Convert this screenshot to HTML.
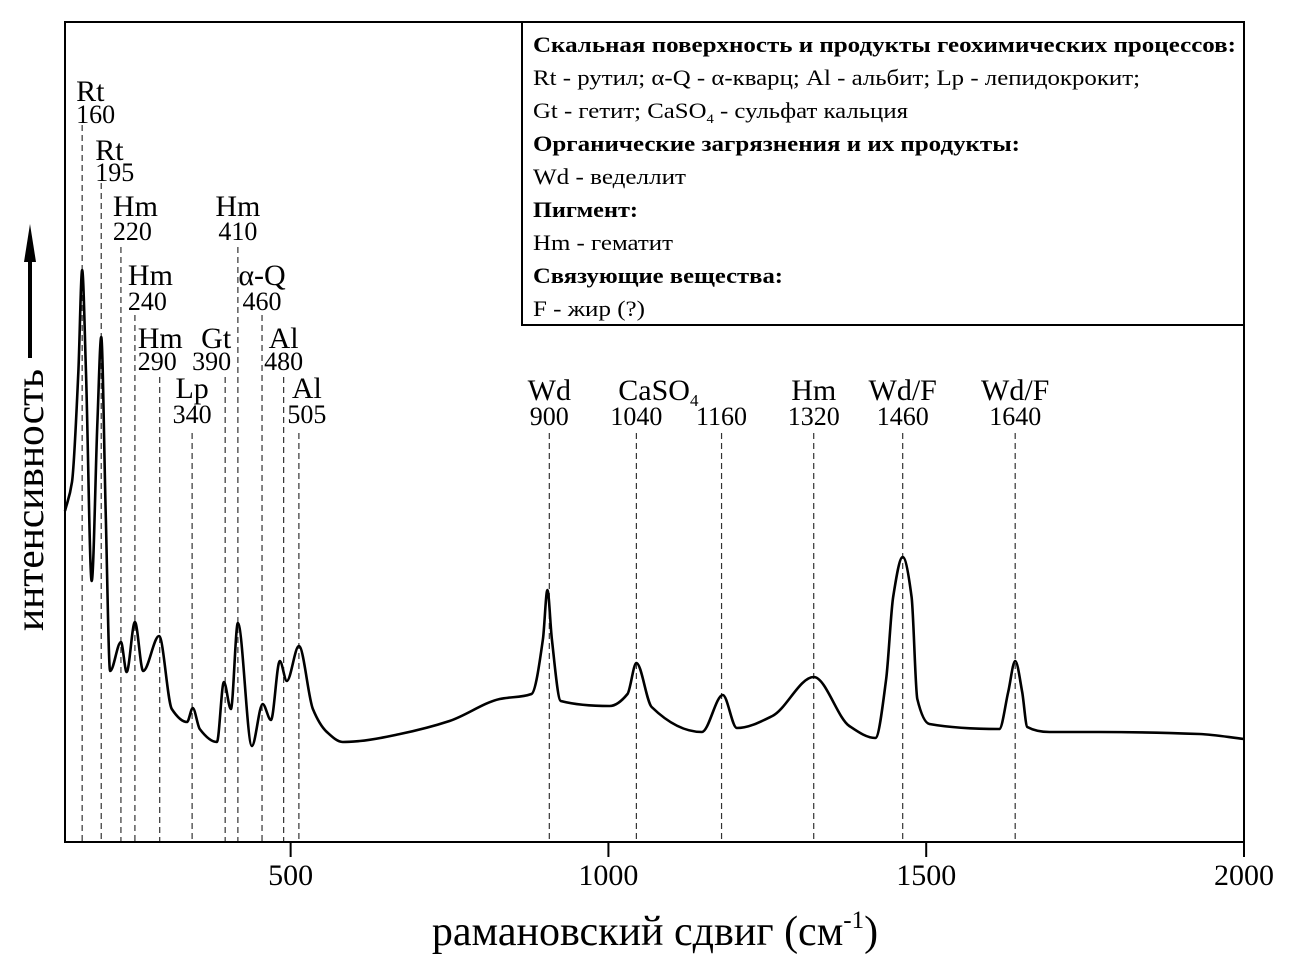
<!DOCTYPE html>
<html><head><meta charset="utf-8"><style>
html,body{margin:0;padding:0;background:#fff;}
svg{display:block;font-family:"Liberation Serif","DejaVu Serif",serif;}
</style></head><body>
<svg id="chart" width="1289" height="972" viewBox="0 0 1289 972">
<g id="guides"></g>
<path id="spectrum" fill="none" stroke="#000" stroke-width="2.6" stroke-linejoin="round"/>
<rect x="65" y="22" width="1179" height="820" fill="none" stroke="#000" stroke-width="2"/>
<g id="xticks"></g>
<text x="655" y="945" font-size="42" text-anchor="middle">рамановский сдвиг (см<tspan font-size="25" dy="-17">-1</tspan><tspan dy="17">)</tspan></text>
<g>
<text transform="translate(43,500) rotate(-90)" font-size="40" text-anchor="middle" textLength="262" lengthAdjust="spacingAndGlyphs">интенсивность</text>
<line x1="30" y1="358" x2="30" y2="255" stroke="#000" stroke-width="4"/>
<polygon points="30,224 24,262 36,262" fill="#000"/>
</g>
<g>
<rect x="522" y="22" width="722" height="303" fill="#fff" stroke="#000" stroke-width="2"/>
<g font-size="22">
<text x="533" y="52" font-weight="bold" textLength="703" lengthAdjust="spacingAndGlyphs">Скальная поверхность и продукты геохимических процессов:</text>
<text x="533" y="85" textLength="607" lengthAdjust="spacingAndGlyphs">Rt - рутил; α-Q - α-кварц; Al - альбит; Lp - лепидокрокит;</text>
<text x="533" y="118" font-size="22" textLength="375" lengthAdjust="spacingAndGlyphs">Gt - гетит; CaSO<tspan font-size="13" dy="5">4</tspan><tspan dy="-5"> - сульфат кальция</tspan></text>
<text x="533" y="151" font-weight="bold" textLength="487" lengthAdjust="spacingAndGlyphs">Органические загрязнения и их продукты:</text>
<text x="533" y="184" textLength="153" lengthAdjust="spacingAndGlyphs">Wd - веделлит</text>
<text x="533" y="217" font-weight="bold" textLength="105" lengthAdjust="spacingAndGlyphs">Пигмент:</text>
<text x="533" y="250" textLength="140" lengthAdjust="spacingAndGlyphs">Hm - гематит</text>
<text x="533" y="283" font-weight="bold" textLength="250" lengthAdjust="spacingAndGlyphs">Связующие вещества:</text>
<text x="533" y="316" textLength="112" lengthAdjust="spacingAndGlyphs">F - жир (?)</text>
</g>
</g>
<g id="labels"></g>
</svg>
<script>
// Spectrum samples (Raman shift cm-1, intensity in arbitrary units)
const shifts = [145,156,166,172,178,187,196,202,209,216,233,242,255,268,293,313,337,346,357,384,395,406,417,439,456,469,483,494,513,535,557,582,609,672,750,829,879,897,904,911,925,1002,1030,1044,1068,1147,1180,1202,1258,1323,1379,1420,1437,1448,1463,1477,1486,1505,1615,1629,1640,1651,1659,1694,1772,1930,2000];
const intensity = [331,360,470,572,470,261,420,505,330,171,200,170,220,171,206,133,120,134,113,100,160,133,219,96,138,122,181,161,196,133,110,100,101,108,121,143,148,203,252,203,141,136,148,179,135,110,147,114,126,165,116,104,163,245,285,245,143,118,113,150,181,150,115,110,110,108,103];
// Peak guide lines
const peakShifts = [172,202,233,255,294,345,397,417,455,489,513,907,1044,1178,1323,1463,1640];
const peakNames = ["Rt","Rt","Hm","Hm","Hm","Lp","Gt","Hm","α-Q","Al","Al","Wd","CaSO4","","Hm","Wd/F","Wd/F"];
const peakValues = ["160","195","220","240","290","340","390","410","460","480","505","900","1040","1160","1320","1460","1640"];
const xTicks = [500,1000,1500,2000];

const NS="http://www.w3.org/2000/svg";
const X0=65,X1=1244,Y0=842,XMIN=145,XMAX=2000;
const xs=v=>X0+(v-XMIN)/(XMAX-XMIN)*(X1-X0);
const ys=v=>Y0-v;

function monotone(px,py){
  const n=px.length,d=[],m=[];
  for(let i=0;i<n-1;i++)d.push((py[i+1]-py[i])/(px[i+1]-px[i]));
  m[0]=d[0];m[n-1]=d[n-2];
  for(let i=1;i<n-1;i++){m[i]=(d[i-1]*d[i]<=0)?0:3*(px[i+1]-px[i-1])/((2*px[i+1]-px[i]-px[i-1])/d[i-1]+(px[i+1]+px[i]-2*px[i-1])/d[i]);}
  let s="M"+px[0]+","+py[0];
  for(let i=0;i<n-1;i++){const h=(px[i+1]-px[i])/3;
    s+="C"+(px[i]+h)+","+(py[i]+m[i]*h)+" "+(px[i+1]-h)+","+(py[i+1]-m[i+1]*h)+" "+px[i+1]+","+py[i+1];}
  return s;
}
document.getElementById('spectrum').setAttribute('d',monotone(shifts.map(xs),intensity.map(ys)));

const layout=[[125,101,123,"s",-6],[183,160,181,"s",-6],[247,216,240,"s",-8],[315,285,310,"s",-7],[377,348,370,"s",-22],[433,398,423,"m",0],[377,348,370,"e",6],[247,216,240,"m",0],[315,285,310,"m",0],[377,348,370,"m",0],[433,398,423,"m",8]];
const g=document.getElementById('guides'),lg=document.getElementById('labels');
peakShifts.forEach((p,i)=>{
  const x=xs(p);
  const L=layout[i]||[433,400,425,"m",0];
  const ln=document.createElementNS(NS,'line');
  
  
  ln.setAttribute('x1',x);ln.setAttribute('x2',x);ln.setAttribute('y1',L[0]);ln.setAttribute('y2',Y0);
  ln.setAttribute('stroke','#333');ln.setAttribute('stroke-width','1.2');ln.setAttribute('stroke-dasharray','6,4');
  g.appendChild(ln);
  const anchor=L[3]==="s"?"start":L[3]==="e"?"end":"middle";
  const tx=x+L[4];
  if(peakNames[i]){
    const t=document.createElementNS(NS,'text');
    
    
    t.setAttribute('x',anchor==="middle"&&i===12?tx+22:tx);t.setAttribute('y',L[1]);t.setAttribute('font-size','30');t.setAttribute('text-anchor',anchor);
    if(peakNames[i]==="CaSO4"){t.innerHTML='CaSO<tspan font-size="17" dy="6">4</tspan>';}
    else t.textContent=peakNames[i];
    lg.appendChild(t);
  }
  const v=document.createElementNS(NS,'text');
  
  
  v.setAttribute('x',tx);v.setAttribute('y',L[2]);v.setAttribute('font-size','26');v.setAttribute('text-anchor',anchor);
  v.textContent=peakValues[i];
  lg.appendChild(v);
});
const xt=document.getElementById('xticks');
xTicks.forEach(t=>{
  const x=xs(t);
  const ln=document.createElementNS(NS,'line');
  
  
  ln.setAttribute('x1',x);ln.setAttribute('x2',x);ln.setAttribute('y1',Y0);ln.setAttribute('y2',Y0+15);
  ln.setAttribute('stroke','#000');ln.setAttribute('stroke-width','2');
  xt.appendChild(ln);
  const tx=document.createElementNS(NS,'text');
  
  
  tx.setAttribute('x',x);tx.setAttribute('y',885);tx.setAttribute('font-size','30');tx.setAttribute('text-anchor','middle');
  tx.textContent=t;
  xt.appendChild(tx);
});
</script>
</body></html>
